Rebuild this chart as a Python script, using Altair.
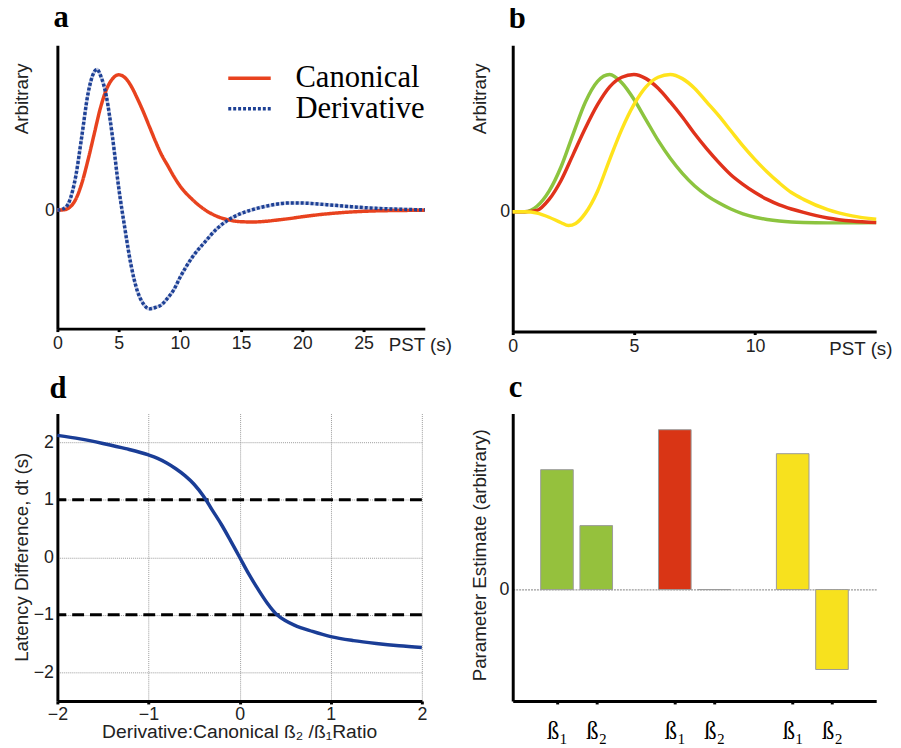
import altair as alt
import pandas as pd

SANS = "Liberation Sans"
SERIF = "Liberation Serif"

# ---------------- panel a : canonical HRF and its temporal derivative
series_a = ["Canonical", "Derivative"]
t_can = [0, 0.5, 1, 1.5, 2, 2.5, 3, 3.5, 4, 4.5, 5, 5.5, 6, 6.5, 7, 7.5, 8, 8.5, 9, 9.5,
         10, 11, 12, 13, 14, 15, 16, 17, 18, 19, 20, 22, 24, 26, 28, 30]
v_can = [0, 0.002, 0.02, 0.08, 0.2, 0.37, 0.56, 0.75, 0.89, 0.97, 1.0, 0.98, 0.92, 0.83, 0.73,
         0.62, 0.51, 0.41, 0.33, 0.25, 0.18, 0.08, 0.005, -0.045, -0.073, -0.086, -0.088,
         -0.083, -0.073, -0.062, -0.049, -0.028, -0.014, -0.006, -0.003, -0.001]
t_der = [0, 0.5, 1, 1.5, 2, 2.5, 3, 3.25, 3.5, 4, 4.5, 5, 5.5, 6, 6.5, 7, 7.5, 8, 8.5, 9,
         9.5, 10, 11, 12, 13, 14, 15, 16, 17, 18, 19, 20, 22, 24, 26, 28, 30]
v_der = [0, 0.01, 0.07, 0.25, 0.55, 0.86, 1.02, 1.04, 1.0, 0.84, 0.54, 0.17, -0.13, -0.4,
         -0.59, -0.69, -0.73, -0.72, -0.70, -0.65, -0.59, -0.5, -0.35, -0.24, -0.14, -0.07,
         -0.025, 0.005, 0.028, 0.045, 0.053, 0.052, 0.04, 0.025, 0.013, 0.006, 0.002]
a_ticks = [0, 5, 10, 15, 20, 25]

# ---------------- panel b : early / canonical / late responses
series_b = ["Early", "Canonical", "Late"]
t_b = [0, 0.5, 1, 1.5, 2, 2.5, 3, 3.5, 4, 4.5, 5, 5.5, 6, 6.5, 7, 7.5, 8, 8.5, 9, 9.5,
       10, 10.5, 11, 11.5, 12, 13, 14, 15]
v_green = [0, 0.0, 0.04, 0.15, 0.33, 0.57, 0.8, 0.95, 1.0, 0.94, 0.82, 0.67, 0.52, 0.39,
           0.28, 0.19, 0.12, 0.065, 0.02, -0.015, -0.04, -0.056, -0.067, -0.074, -0.078,
           -0.081, -0.081, -0.079]
v_red = [0, 0.0, 0.01, 0.09, 0.23, 0.42, 0.61, 0.78, 0.91, 0.98, 1.0, 0.97, 0.9, 0.8, 0.69,
         0.57, 0.46, 0.36, 0.27, 0.2, 0.14, 0.09, 0.05, 0.02, -0.005, -0.045, -0.068, -0.079]
t_yel = [0, 0.5, 1, 1.5, 2, 2.3, 2.6, 3, 3.5, 4, 4.5, 5, 5.5, 6, 6.5, 7, 7.5, 8, 8.5, 9,
         9.5, 10, 10.5, 11, 11.5, 12, 13, 14, 15]
v_yellow = [0, 0.0, -0.01, -0.04, -0.08, -0.1, -0.085, -0.01, 0.15, 0.38, 0.6, 0.78, 0.91,
            0.98, 1.0, 0.97, 0.9, 0.8, 0.7, 0.59, 0.48, 0.38, 0.29, 0.21, 0.14, 0.09, 0.015,
            -0.03, -0.055]
b_ticks = [0, 5, 10]

# ---------------- panel c : parameter estimates
c_pos = [1, 2, 4, 5, 7, 8]
c_labels = ["ß₁", "ß₂", "ß₁", "ß₂", "ß₁", "ß₂"]
c_group = ["Early", "Early", "Canonical", "Canonical", "Late", "Late"]
c_vals = [0.75, 0.40, 1.0, 0.0, 0.85, -0.50]

# ---------------- panel d : latency difference vs ratio
d_x = [-2, -1.75, -1.5, -1.25, -1, -0.9, -0.8, -0.7, -0.6, -0.5, -0.4, -0.37, -0.3, -0.2,
       -0.1, 0, 0.1, 0.2, 0.3, 0.41, 0.5, 0.6, 0.8, 1, 1.25, 1.5, 1.75, 2]
d_y = [2.12, 2.06, 1.98, 1.89, 1.78, 1.72, 1.64, 1.54, 1.42, 1.27, 1.07, 1.0, 0.82, 0.57,
       0.29, 0, -0.29, -0.55, -0.79, -1.0, -1.1, -1.18, -1.29, -1.38, -1.45, -1.5, -1.54,
       -1.57]
d_ticks = [-2, -1, 0, 1, 2]
d_hlines = [1, -1]

RED_A, BLUE_A = "#e8421e", "#1d4095"
B_COLORS = ["#8cc43f", "#e0321b", "#ffe31c"]
C_COLORS = ["#95c13d", "#d93515", "#f7e11e"]
BLUE_D = "#1a3d96"


def panel_title(letter, dx, offset):
    return alt.TitleParams(text=letter, font=SERIF, fontSize=31, fontWeight="bold",
                           anchor="start", frame="group", dx=dx, offset=offset,
                           baseline="alphabetic", color="black")


AX = dict(domainColor="black", domainWidth=3, labelFont=SANS, labelFontSize=18,
          labelColor="#222", titleFont=SANS, titleFontSize=19, titleColor="#222",
          titleFontWeight="normal", ticks=False, grid=False, labelPadding=6,
          labelFlush=False)
XTICKS = dict(ticks=True, tickSize=3, tickWidth=3, tickColor="black")


def legend_entry(value, y, extra=None):
    kw = dict(values=[value], orient="none", legendX=171, legendY=y, title=None,
              symbolType="stroke", symbolSize=1849, symbolStrokeWidth=3.5,
              labelFont=SERIF, labelFontSize=31, labelColor="black", labelOffset=23,
              padding=0)
    if extra:
        kw.update(extra)
    return alt.Legend(**kw)


# ---- a
df_can = pd.DataFrame({"t": t_can, "v": v_can, "s": series_a[0]})
df_der = pd.DataFrame({"t": t_der, "v": v_der, "s": series_a[1]})
df_a = pd.concat([df_can, df_der])
df_a["s2"] = df_a["s"]
xa = alt.X("t:Q", scale=alt.Scale(domain=[0, 30], nice=False),
           axis=alt.Axis(values=a_ticks, title="PST (s)", titleX=335, titleY=22,
                         titleAlign="left", titleBaseline="alphabetic",
                         **{**AX, **XTICKS, "labelPadding": 3}))
ya = alt.Y("v:Q", scale=alt.Scale(domain=[-0.876, 1.219], nice=False, zero=False),
           axis=alt.Axis(values=[0], title="Arbitrary", titleX=-30, titleY=18,
                         titleAlign="right", titleBaseline="alphabetic",
                         **{**AX, "labelPadding": 3}))
under = alt.Chart(df_der).mark_line(color="#c3cbe4", strokeWidth=3.5,
                                    interpolate="monotone").encode(x=xa, y=ya)
lines_a = alt.Chart(df_a).mark_line(strokeWidth=3.5, interpolate="monotone").encode(
    x=xa, y=ya,
    color=alt.Color("s:N", scale=alt.Scale(domain=series_a, range=[RED_A, BLUE_A]),
                    legend=legend_entry(series_a[0], 10)),
    # reversed domain keeps this legend separate from the colour legend
    strokeDash=alt.StrokeDash("s2:N", scale=alt.Scale(domain=series_a[::-1],
                                                      range=[[3, 2], [1, 0]]),
                              legend=legend_entry(series_a[1], 41,
                                                  {"symbolStrokeColor": BLUE_A})),
)
chart_a = alt.layer(under, lines_a).properties(width=372, height=287,
                                              title=panel_title("a", -4, -13))

# ---- b
df_b = pd.concat([
    pd.DataFrame({"t": t_b, "v": v_green, "s": series_b[0]}),
    pd.DataFrame({"t": t_b, "v": v_red, "s": series_b[1]}),
    pd.DataFrame({"t": t_yel, "v": v_yellow, "s": series_b[2]}),
])
chart_b = alt.Chart(df_b).mark_line(strokeWidth=3.5, interpolate="monotone").encode(
    x=alt.X("t:Q", scale=alt.Scale(domain=[0, 15], nice=False),
            axis=alt.Axis(values=b_ticks, title="PST (s)", titleX=320, titleY=23,
                          titleAlign="left", titleBaseline="alphabetic",
                          **{**AX, **XTICKS, "labelPadding": 3})),
    y=alt.Y("v:Q", scale=alt.Scale(domain=[-0.873, 1.214], nice=False, zero=False),
            axis=alt.Axis(values=[0], title="Arbitrary", titleX=-28, titleY=18,
                          titleAlign="right", titleBaseline="alphabetic",
                          **{**AX, "labelPadding": 3})),
    color=alt.Color("s:N", scale=alt.Scale(domain=series_b, range=B_COLORS), legend=None),
    order=alt.Order("o:Q"),
).transform_calculate(o="indexof(['Early','Canonical','Late'], datum.s)").properties(
    width=368, height=290, title=panel_title("b", -4, -14))

# ---- d
df_d = pd.DataFrame({"x": d_x, "y": d_y})
df_h = pd.DataFrame({"h": d_hlines})
GRID = dict(grid=True, gridColor="#9a9a9a", gridDash=[1, 1], gridWidth=1)
xd = alt.X("x:Q", scale=alt.Scale(domain=[-2, 2], nice=False),
           axis=alt.Axis(values=d_ticks, format="d", title="Derivative:Canonical ß₂ /ß₁Ratio",
                         titleX=184, titleY=37, titleAlign="center",
                         titleBaseline="alphabetic",
                         **{**AX, **GRID, **XTICKS, "labelPadding": 2,
                            "titleFontSize": 19.5}))
yd = alt.Y("y:Q", scale=alt.Scale(domain=[-2.5, 2.5], nice=False),
           axis=alt.Axis(values=d_ticks, format="d", title="Latency Difference, dt (s)",
                         titleX=-30, titleY=145, titleAlign="center",
                         titleBaseline="alphabetic", **{**AX, **GRID, "labelPadding": 4}))
curve_d = alt.Chart(df_d).mark_line(color=BLUE_D, strokeWidth=3.5,
                                    interpolate="monotone").encode(x=xd, y=yd)
rules_d = alt.Chart(df_h).mark_rule(color="black", strokeWidth=3,
                                    strokeDash=[12, 6]).encode(y="h:Q")
chart_d = alt.layer(rules_d, curve_d).properties(width=369, height=291,
                                                 title=panel_title("d", -8, -15))

# ---- c
df_c = pd.DataFrame({"p": c_pos, "lab": c_labels, "g": c_group, "v": c_vals})
pos_js = "[" + ",".join(str(p) for p in c_pos) + "]"
lab_js = "[" + ",".join("'" + s + "'" for s in c_labels) + "]"
chart_c = alt.Chart(df_c).mark_bar(width=33, stroke="#9a9a9a", strokeWidth=1,
                                   orient="vertical").encode(
    x=alt.X("p:Q", scale=alt.Scale(domain=[0, 9], nice=False),
            axis=alt.Axis(values=c_pos, title=None,
                          labelExpr=f"{lab_js}[indexof({pos_js}, datum.value)]",
                          **{**AX, **XTICKS, "labelFont": SERIF, "labelFontSize": 25,
                             "labelColor": "black", "labelPadding": 15})),
    y=alt.Y("v:Q", scale=alt.Scale(domain=[-0.697, 1.101], nice=False, zero=False),
            axis=alt.Axis(values=[0], title="Parameter Estimate (arbitrary)", titleX=-28,
                          titleY=143, titleAlign="center", titleBaseline="alphabetic",
                          **{**AX, "grid": True, "gridColor": "#9a9a9a", "gridDash": [2, 1],
                             "gridWidth": 1.5, "labelPadding": 4})),
    y2=alt.datum(0),
    color=alt.Color("g:N", scale=alt.Scale(domain=series_b, range=C_COLORS), legend=None),
).properties(width=368, height=291, title=panel_title("c", -4, -14))

chart = alt.concat(chart_a, chart_b, chart_d, chart_c, columns=2,
                   spacing=alt.RowColnumber(row=83, column=89), bounds="flush").resolve_scale(
    color="independent", strokeDash="independent", x="independent", y="independent"
).configure_view(stroke=None).properties(
    padding={"left": 4, "top": -10, "right": 0, "bottom": 0}, background="white")

chart.save("out.html", embed_options={"renderer": "svg", "actions": False})
